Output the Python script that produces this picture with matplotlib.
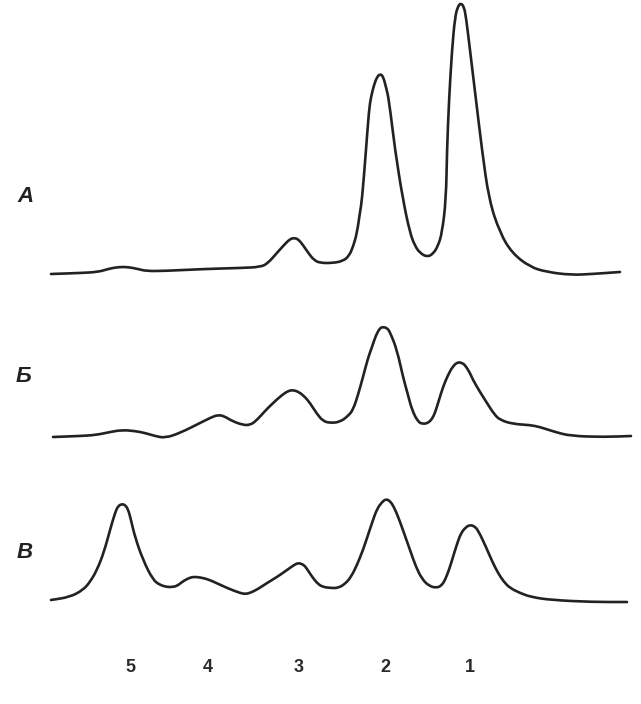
import matplotlib
matplotlib.use("Agg")
import matplotlib.pyplot as plt
from matplotlib.path import Path
from matplotlib.patches import PathPatch

# Densitometry traces (x: scan position, y: image rows, downward)
curve_a_x = [51, 80, 98, 108, 118, 128, 138, 146, 163, 204, 240, 261, 268, 276, 284, 290,
             294, 298, 303, 309, 314, 320, 333, 343, 349, 353, 357, 360, 362, 366, 369, 371,
             374, 377, 380, 383, 386, 389, 395, 403, 410, 415, 420, 427, 433, 438, 442, 446,
             447, 449, 452, 455, 458, 461, 464, 466, 470, 476, 482, 489, 500, 512, 530, 547,
             571, 592, 620]
curve_a_y = [274, 273, 272, 269, 267, 267, 269, 271, 271, 269, 268, 267, 263, 254, 245, 239,
             238, 239, 245, 254, 260, 263, 263, 261, 256, 247, 233, 212, 200, 150, 110, 97,
             85, 77, 74, 76, 87, 100, 150, 200, 233, 246, 253, 257, 254, 246, 233, 200,
             150, 100, 50, 17, 6, 3, 7, 17, 50, 100, 150, 200, 233, 253, 267, 272,
             275, 274, 272]

curve_b_x = [53, 80, 96, 110, 122, 135, 145, 155, 165, 180, 200, 212, 218, 224, 232, 243,
             250, 256, 265, 273, 282, 288, 293, 299, 305, 310, 317, 323, 330, 340, 348, 353,
             358, 363, 368, 372, 376, 380, 383, 387, 390, 397, 403, 408, 412, 418, 423, 428,
             432, 435, 439, 443, 448, 453, 458, 462, 465, 470, 473, 480, 487, 494, 500, 513,
             530, 540, 555, 571, 604, 631]
curve_b_y = [437, 436, 435, 432, 430, 431, 433, 436, 438, 433, 423, 417, 415, 416, 421, 425,
             425, 421, 411, 403, 395, 391, 390, 392, 397, 403, 414, 421, 423, 422, 416, 410,
             395, 377, 358, 347, 335, 328, 327, 328, 332, 350, 377, 395, 410, 422, 424, 423,
             419, 413, 400, 387, 375, 366, 362, 363, 365, 373, 380, 392, 403, 414, 420, 424,
             425, 427, 432, 436, 437, 436]

curve_v_x = [51, 70, 83, 90, 97, 104, 110, 115, 118, 122, 125, 128, 131, 135, 143, 153,
             160, 167, 172, 177, 182, 187, 192, 197, 203, 210, 227, 240, 245, 250, 258, 267,
             277, 287, 294, 298, 302, 305, 309, 313, 318, 323, 331, 338, 345, 351, 357, 363,
             368, 373, 377, 382, 386, 390, 394, 399, 404, 410, 416, 422, 429, 437, 442, 445,
             449, 453, 457, 461, 466, 470, 474, 478, 486, 492, 498, 504, 510, 520, 531, 551,
             592, 627]
curve_v_y = [600, 597, 590, 582, 570, 552, 530, 513, 506, 504, 505, 509, 520, 537, 560, 580,
             585, 587, 587, 586, 582, 579, 577, 577, 578, 580, 588, 593, 594, 593, 589, 583,
             577, 570, 565, 563, 564, 566, 572, 578, 584, 587, 588, 588, 584, 577, 565, 550,
             535, 520, 509, 502, 499, 501, 507, 519, 533, 550, 567, 579, 586, 588, 585, 580,
             570, 557, 544, 533, 527, 525, 526, 530, 547, 561, 573, 582, 588, 593, 597, 600,
             602, 602]

trace_labels = ["А", "Б", "В"]
trace_label_pos = [(26, 197), (23, 376), (25, 553)]
band_labels = ["5", "4", "3", "2", "1"]
band_label_x = [130, 208, 299, 385, 470]
band_label_y = 667


def smooth_path(xs, ys):
    """Quadratic Bezier through segment midpoints, read points as control points."""
    pts = list(zip(xs, ys))
    verts = [pts[0]]
    codes = [Path.MOVETO]
    mid = lambda p, q: ((p[0] + q[0]) / 2.0, (p[1] + q[1]) / 2.0)
    verts.append(mid(pts[0], pts[1]))
    codes.append(Path.LINETO)
    for i in range(1, len(pts) - 1):
        verts += [pts[i], mid(pts[i], pts[i + 1])]
        codes += [Path.CURVE3, Path.CURVE3]
    verts.append(pts[-1])
    codes.append(Path.LINETO)
    return Path(verts, codes)


fig = plt.figure(figsize=(6.41, 7.04), dpi=100)
ax = fig.add_axes([0, 0, 1, 1])
ax.set_xlim(0, 641)
ax.set_ylim(704, 0)
ax.axis("off")

for xs, ys in [(curve_a_x, curve_a_y), (curve_b_x, curve_b_y), (curve_v_x, curve_v_y)]:
    ax.add_patch(PathPatch(smooth_path(xs, ys), facecolor="none", edgecolor="#222222",
                           lw=1.9, joinstyle="round", capstyle="round"))

for lab, (x, y) in zip(trace_labels, trace_label_pos):
    ax.text(x, y, lab, fontsize=16, fontstyle="italic", fontweight="bold",
            family=["Liberation Sans", "DejaVu Sans"], color="#222222",
            ha="center", va="center")

for lab, x in zip(band_labels, band_label_x):
    ax.text(x, band_label_y, lab, fontsize=13, fontweight="bold",
            family=["Liberation Sans", "DejaVu Sans"], color="#2a2a2a",
            ha="center", va="center")

fig.savefig("out.png", dpi=100, facecolor="white")
